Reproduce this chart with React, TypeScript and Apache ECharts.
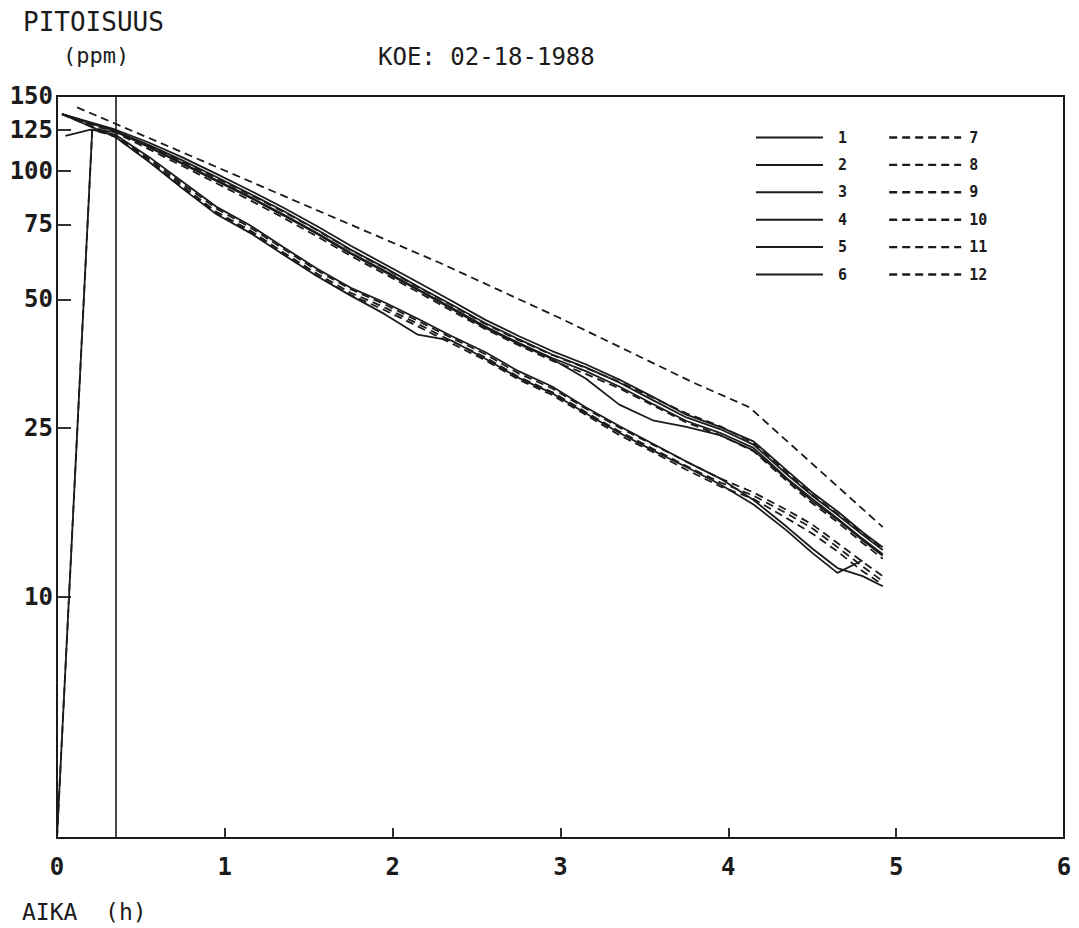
import { useEffect, useRef } from "react";
import * as echarts from "echarts";

// Sampling times (h) shared by the measurement channels after the start mark
const times = [0.35, 0.55, 0.75, 0.95, 1.15, 1.35, 1.55, 1.75, 1.95, 2.15, 2.35, 2.55, 2.75, 2.95, 3.15, 3.35, 3.55, 3.75, 3.95, 4.15, 4.35, 4.5, 4.65, 4.8, 4.92];

// Concentrations (ppm) per channel, aligned with `times`
const s1 = [125, 116.5, 107.5, 98.5, 90, 82, 74.2, 66.8, 60.5, 54.8, 49.6, 44.8, 41, 37.8, 35.2, 32.4, 29.5, 26.8, 25.1, 23.2, 19.8, 17.6, 15.9, 14.2, 13.1];
const s2 = [124, 115, 105.8, 96.8, 88.4, 80.6, 72.8, 65.4, 59.4, 53.6, 48.6, 44, 40.3, 37.1, 34.6, 31.9, 29.0, 26.4, 24.8, 22.8, 19.4, 17.3, 15.6, 14.0, 12.9];
const s3 = [124, 113.6, 103.8, 94.8, 86.6, 78.6, 71.2, 64.0, 58.0, 52.6, 47.5, 42.9, 39.3, 36.2, 32.6, 28.3, 26.0, 25.1, 24.0, 22.1, 18.9, 16.8, 15.2, 13.6, 12.5];
const s4 = [123.5, 114, 104.2, 95.2, 87, 79, 71.5, 64.3, 58.4, 52.8, 47.8, 43.2, 39.5, 36.4, 33.9, 31.2, 28.4, 25.9, 24.3, 22.4, 19.0, 17.0, 15.3, 13.7, 12.6];
const s5 = [121.5, 107.8, 94.2, 82.4, 74.6, 66.2, 59.0, 53.2, 49.2, 45.0, 41.0, 37.6, 33.9, 31.2, 27.9, 25.2, 22.9, 20.8, 19.0, 16.9, 14.6, 13.0, 11.7, 11.2, 10.6];
const s6 = [120, 105, 90.8, 79.2, 71.6, 63.6, 56.6, 51.0, 46.2, 41.3, 40.0, 36.3, 32.7, 30.1, 27.0, 24.3, 22.1, 20.2, 18.4, 16.5, 14.3, 12.7, 11.4, 12.2, null];
const s8 = [124, 114.6, 105.2, 96.2, 88, 80.2, 72.6, 65.2, 59.2, 53.4, 48.4, 43.8, 40.1, 37.0, 34.5, 32.0, 29.4, 27.0, 25.2, 23.0, 19.6, 17.4, 15.7, 14.1, 13.0];
const s9 = [123, 112.4, 102.6, 93.6, 85.4, 77.6, 70.2, 63.2, 57.4, 52.0, 47.0, 42.6, 39.0, 35.9, 33.4, 30.9, 28.2, 25.7, 24.0, 22.0, 18.7, 16.6, 15.0, 13.4, 12.3];
const s10 = [121, 106.8, 93.2, 81.6, 73.8, 65.6, 58.4, 52.8, 48.7, 44.5, 40.6, 37.2, 33.5, 30.9, 27.7, 25.0, 22.8, 20.8, 19.0, 17.6, 16.0, 14.8, 13.4, 12.1, 11.2];
const s11 = [120.5, 105.8, 92.0, 80.2, 72.6, 64.4, 57.4, 51.8, 47.9, 43.8, 39.9, 36.6, 32.9, 30.3, 27.2, 24.5, 22.3, 20.3, 18.6, 17.3, 15.7, 14.5, 13.1, 11.8, 10.9];
const s12 = [120, 105.2, 91.4, 79.6, 72.0, 63.8, 56.8, 51.2, 47.2, 43.2, 39.4, 36.0, 32.4, 29.8, 26.8, 24.0, 21.9, 19.9, 18.2, 17.0, 15.3, 14.1, 12.8, 11.5, 10.7];

// Channel 7 was logged on its own schedule
const s7Times = [0.12, 0.73, 1.45, 2.28, 2.99, 3.79, 4.125, 4.92];
const s7 = [141, 111.4, 84.1, 60.9, 45.3, 31.9, 27.9, 14.6];

// Axis range and tick labels
const yMin = 2.72;
const yMax = 150;
const yTicks = [10, 25, 50, 75, 100, 125, 150];
const xTicks = [0, 1, 2, 3, 4, 5, 6];
const startMark = 0.35;

// Readings taken before the start mark
const headHigh: [number, number][] = [[0.03, 136]];
const headLow: [number, number][] = [[0.05, 121], [0.2, 125]];
const headRise: [number, number][] = [[0, yMin], [0.21, 125]];

const ink = "#1b1b1b";
const mono = "'DejaVu Sans Mono', 'Liberation Mono', monospace";
const dash = [8, 5];

type Channel = { name: string; head: [number, number][]; t: number[]; v: (number | null)[]; dashed: boolean };

const channels: Channel[] = [
  { name: "1", head: headHigh, t: times, v: s1, dashed: false },
  { name: "2", head: headHigh, t: times, v: s2, dashed: false },
  { name: "3", head: headHigh, t: times, v: s3, dashed: false },
  { name: "4", head: headLow, t: times, v: s4, dashed: false },
  { name: "5", head: headRise, t: times, v: s5, dashed: false },
  { name: "6", head: headHigh, t: times, v: s6, dashed: false },
  { name: "7", head: [], t: s7Times, v: s7, dashed: true },
  { name: "8", head: headHigh, t: times, v: s8, dashed: true },
  { name: "9", head: headHigh, t: times, v: s9, dashed: true },
  { name: "10", head: headHigh, t: times, v: s10, dashed: true },
  { name: "11", head: headRise, t: times, v: s11, dashed: true },
  { name: "12", head: headHigh, t: times, v: s12, dashed: true },
];

function buildOption(): echarts.EChartsOption {
  const series: any[] = channels.map((c, idx) => {
    const pts: [number, number][] = [...c.head];
    c.t.forEach((t, i) => {
      const v = c.v[i];
      if (v !== null && v !== undefined) pts.push([t, v]);
    });
    const s: any = {
      name: c.name,
      type: "line",
      data: pts,
      symbol: "none",
      silent: true,
      color: ink,
      itemStyle: { color: ink },
      lineStyle: { color: ink, width: 1.8, type: c.dashed ? dash : "solid" },
    };
    if (idx === 0) {
      s.markLine = {
        silent: true,
        symbol: "none",
        label: { show: false },
        lineStyle: { color: ink, width: 1.6, type: "solid" },
        data: [{ xAxis: startMark }],
      };
    }
    return s;
  });

  const legendText = { fontFamily: mono, fontWeight: "bold" as const, fontSize: 15, color: ink };
  const hiddenMarker = { color: "rgba(0,0,0,0)", borderColor: "rgba(0,0,0,0)", borderWidth: 0, opacity: 0 };

  return {
    animation: false,
    backgroundColor: "#ffffff",
    grid: {
      left: 57,
      right: 15,
      top: 96,
      bottom: 90,
      show: true,
      borderColor: ink,
      borderWidth: 2,
      backgroundColor: "transparent",
    },
    legend: [
      {
        data: channels.slice(0, 6).map((c) => c.name),
        orient: "vertical",
        left: 750,
        top: 125,
        itemWidth: 67,
        itemHeight: 14,
        itemGap: 12.4,
        selectedMode: false,
        itemStyle: hiddenMarker,
        lineStyle: { width: 2 },
        textStyle: { ...legendText, padding: [0, 0, 0, 10] },
      },
      {
        data: channels.slice(6).map((c) => c.name),
        orient: "vertical",
        left: 883,
        top: 125,
        itemWidth: 72,
        itemHeight: 14,
        itemGap: 12.4,
        selectedMode: false,
        itemStyle: hiddenMarker,
        lineStyle: { width: 2.4 },
        textStyle: { ...legendText, padding: [0, 0, 0, 3] },
      },
    ],
    xAxis: {
      type: "value",
      min: 0,
      max: 6,
      interval: 1,
      axisLine: { show: true, lineStyle: { color: ink, width: 2 } },
      axisTick: { show: true, inside: true, length: 10, lineStyle: { color: ink, width: 1.8 }, customValues: xTicks },
      axisLabel: { margin: 17, fontFamily: mono, fontSize: 24, fontWeight: "bold", color: ink, customValues: xTicks },
      splitLine: { show: false },
    },
    yAxis: {
      type: "log",
      logBase: 10,
      min: yMin,
      max: yMax,
      axisLine: { show: true, lineStyle: { color: ink, width: 2 } },
      axisTick: { show: true, inside: true, length: 14, lineStyle: { color: ink, width: 1.8 }, customValues: yTicks },
      axisLabel: {
        margin: 4,
        fontFamily: mono,
        fontSize: 24,
        fontWeight: "bold",
        color: ink,
        customValues: yTicks,
        formatter: (v: number) => String(Math.round(v)),
      },
      splitLine: { show: false },
      minorTick: { show: false },
    },
    graphic: [
      { type: "text", x: 23, y: 22, style: { text: "PITOISUUS", font: `26px ${mono}`, fill: ink, verticalAlign: "middle" } },
      { type: "text", x: 63, y: 55, style: { text: "(ppm)", font: `22px ${mono}`, fill: ink, verticalAlign: "middle" } },
      { type: "text", x: 378, y: 57, style: { text: "KOE: 02-18-1988", font: `24px ${mono}`, fill: ink, verticalAlign: "middle" } },
      { type: "text", x: 22, y: 912, style: { text: "AIKA  (h)", font: `23px ${mono}`, fill: ink, verticalAlign: "middle" } },
    ],
    series,
  };
}

export default function App() {
  const ref = useRef<HTMLDivElement>(null);
  useEffect(() => {
    if (!ref.current) return;
    const chart = echarts.init(ref.current, null, { renderer: "svg" });
    chart.setOption(buildOption());
    return () => chart.dispose();
  }, []);
  return (
    <div
      ref={ref}
      style={{ position: "fixed", left: 0, top: 0, width: 1079, height: 928, background: "#ffffff" }}
    />
  );
}
